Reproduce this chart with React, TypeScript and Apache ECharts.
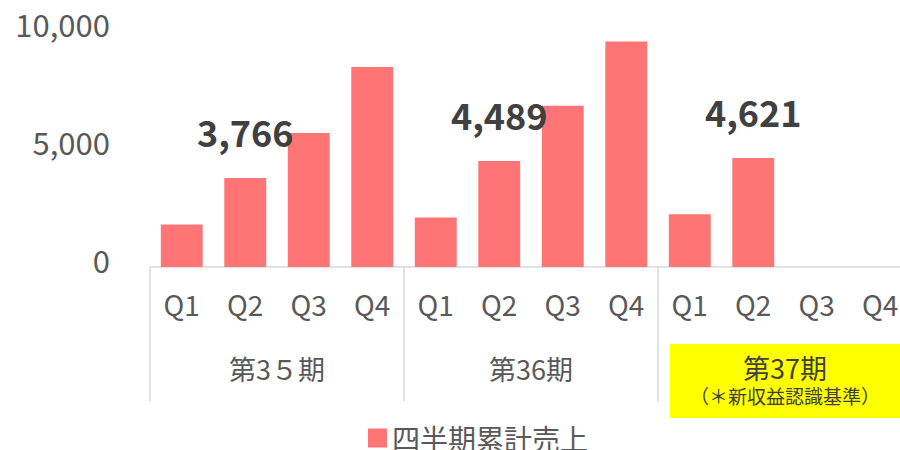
import React, { useEffect, useRef } from "react";
import * as echarts from "echarts";

const quarters = ["Q1", "Q2", "Q3", "Q4", "Q1", "Q2", "Q3", "Q4", "Q1", "Q2", "Q3", "Q4"];
const periods = ["第3５期", "第36期", "第37期"];
const periodNote = "（＊新収益認識基準）";
const sales: (number | null)[] = [1800, 3766, 5680, 8470, 2100, 4489, 6830, 9560, 2230, 4621, null, null];
const labeledIndices = [1, 5, 9];
const seriesName = "四半期累計売上";
const yMax = 10000;
const yInterval = 5000;

const FONT = "Noto Sans CJK JP";
const GREY = "#595959";
const LINE = "#D9D9D9";
const BAR = "#FF7575";

export default function App() {
  const ref = useRef<HTMLDivElement>(null);
  useEffect(() => {
    if (!ref.current) return;
    const chart = echarts.init(ref.current, undefined, { renderer: "svg" });
    const option: any = {
      animation: false,
      backgroundColor: "#FFFFFF",
      textStyle: { fontFamily: FONT },
      grid: { left: 150, width: 762, top: 31, height: 236, containLabel: false, outerBoundsMode: "none" },
      legend: {
        data: [seriesName],
        left: 363,
        top: 419,
        icon: "rect",
        itemWidth: 19,
        itemHeight: 19,
        itemGap: 10,
        textStyle: { fontFamily: FONT, fontSize: 28, color: GREY },
      },
      xAxis: [
        {
          type: "category",
          data: quarters,
          position: "bottom",
          axisLine: { show: true, lineStyle: { color: LINE, width: 1.5 } },
          axisTick: { show: false },
          axisLabel: {
            interval: 0,
            margin: 20,
            fontFamily: FONT,
            fontSize: 28,
            lineHeight: 34,
            color: GREY,
          },
        },
        {
          type: "category",
          data: periods.map((p, i) =>
            i === 2
              ? {
                  value: p,
                  textStyle: {
                    backgroundColor: "#FFFF00",
                    padding: [8, 20, 9, 20],
                  },
                }
              : p
          ),
          position: "bottom",
          axisLine: { show: false },
          axisTick: { show: true, length: 134, lineStyle: { color: LINE, width: 1.5 } },
          axisLabel: {
            interval: 0,
            margin: 77,
            color: GREY,
            formatter: (v: string) =>
              v === periods[2] ? `{a|${v}}\n{b|${periodNote}}` : `{n|${v}}`,
            rich: {
              n: { fontFamily: FONT, fontSize: 27, lineHeight: 30, padding: [19, 0, 0, 0], color: GREY },
              a: { fontFamily: FONT, fontSize: 27, lineHeight: 30, color: "#404040" },
              b: { fontFamily: FONT, fontSize: 19, lineHeight: 27, color: "#404040" },
            },
          },
        },
      ],
      yAxis: {
        type: "value",
        min: 0,
        max: yMax,
        interval: yInterval,
        axisLine: { show: false },
        axisTick: { show: false },
        splitLine: { show: false },
        axisLabel: {
          margin: 40,
          fontFamily: FONT,
          fontSize: 31,
          color: GREY,
          verticalAlign: "bottom",
          lineHeight: 16,
          formatter: (v: number) => v.toLocaleString("en-US"),
        },
      },
      series: [
        {
          name: seriesName,
          type: "bar",
          xAxisIndex: 0,
          barCategoryGap: "34%",
          itemStyle: { color: BAR },
          data: sales.map((v, i) =>
            labeledIndices.includes(i)
              ? {
                  value: v,
                  label: {
                    show: true,
                    position: "top",
                    distance: 29,
                    fontFamily: FONT,
                    fontSize: 36,
                    fontWeight: "bold",
                    lineHeight: 36,
                    color: "#404040",
                    formatter: (p: any) => Number(p.value).toLocaleString("en-US"),
                  },
                }
              : v
          ),
        },
      ],
    };
    chart.setOption(option);
    return () => chart.dispose();
  }, []);
  return <div ref={ref} style={{ width: 900, height: 450, position: "absolute", left: 0, top: 0 }} />;
}
